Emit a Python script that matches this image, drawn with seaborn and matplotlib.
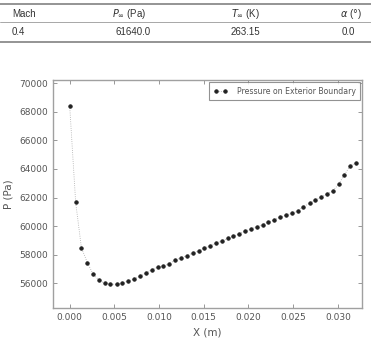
import numpy as np
import pandas as pd
import seaborn as sns
import matplotlib.pyplot as plt

# Freestream conditions (table above the plot)
table_header = ['Mach', r'$P_\infty$ (Pa)', r'$T_\infty$ (K)', r'$\alpha$ ($\degree$)']
table_values = ['0.4', '61640.0', '263.15', '0.0']

# Pressure along the exterior boundary
x_m = [0.0, 0.00067, 0.00131, 0.00198, 0.00261, 0.00328, 0.00392, 0.00456, 0.00524, 0.00586,
       0.00654, 0.00717, 0.00785, 0.00852, 0.00916, 0.00983, 0.01046, 0.01110, 0.01177, 0.01244,
       0.01308, 0.01375, 0.01443, 0.01506, 0.01569, 0.01637, 0.01701, 0.01768, 0.01831, 0.01894,
       0.01962, 0.02026, 0.02093, 0.02158, 0.02223, 0.02290, 0.02354, 0.02421, 0.02485, 0.02553,
       0.02615, 0.02683, 0.02746, 0.02814, 0.02878, 0.02945, 0.03008, 0.03072, 0.03139, 0.03206]
p_pa = [68407, 61654, 58492, 57442, 56651, 56210, 56000, 55930, 55930, 56020,
        56160, 56300, 56490, 56720, 56950, 57120, 57210, 57350, 57610, 57790,
        57930, 58100, 58280, 58450, 58630, 58820, 58960, 59150, 59290, 59470,
        59640, 59800, 59960, 60110, 60280, 60450, 60620, 60780, 60900, 61060,
        61360, 61600, 61810, 62040, 62250, 62460, 62930, 63580, 64230, 64440]

df = pd.DataFrame({'x': x_m, 'p': p_pa})

sns.set_style('ticks')
plt.rcParams['font.family'] = ['DejaVu Sans']
grey = '#555555'

fig = plt.figure(figsize=(3.71, 3.44), dpi=100)

# table drawn as figure text
tfont = ['Liberation Sans', 'DejaVu Sans']
fig.add_artist(plt.Line2D([0.0, 1.0], [1 - 3.5/344, 1 - 3.5/344], color='#777777', lw=1.1))
fig.add_artist(plt.Line2D([0.0, 1.0], [1 - 22/344, 1 - 22/344], color='#999999', lw=0.6))
fig.add_artist(plt.Line2D([0.0, 1.0], [1 - 42/344, 1 - 42/344], color='#777777', lw=1.1))
hx = [12, 112, 231, 362]
vx = [12, 116, 231, 355]
ha = ['left', 'left', 'left', 'right']
for i in range(4):
    fig.text(hx[i]/371, 1 - 14/344, table_header[i], ha=ha[i], va='center',
             fontsize=7, color='#333333', family=tfont)
    fig.text(vx[i]/371, 1 - 32/344, table_values[i], ha=ha[i], va='center',
             fontsize=7, color='#333333', family=tfont)

ax = fig.add_axes([52.7/371, 1 - 308.3/344, (362 - 52.7)/371, (308.3 - 80.3)/344])
sns.lineplot(data=df, x='x', y='p', ax=ax, linestyle=':', linewidth=0.6, color='#aaaaaa',
             marker='o', markersize=2.4, markerfacecolor='#222222', markeredgecolor='#222222',
             label='Pressure on Exterior Boundary')

ax.set_xlim(-0.0019, 0.0327)
ax.set_ylim(54250, 70200)
ax.set_xticks([0.0, 0.005, 0.010, 0.015, 0.020, 0.025, 0.030])
ax.set_xticklabels(['0.000', '0.005', '0.010', '0.015', '0.020', '0.025', '0.030'])
ax.set_yticks(range(56000, 70001, 2000))
ax.set_xlabel('X (m)', fontsize=7.5, color=grey)
ax.set_ylabel('P (Pa)', fontsize=7.5, color=grey)
ax.tick_params(direction='in', top=True, right=True, length=3, width=0.6,
               labelsize=6.5, colors='#888888', labelcolor=grey)
for s in ax.spines.values():
    s.set_color('#a0a0a0')
    s.set_linewidth(1.0)

leg = ax.legend(loc='upper right', numpoints=2, fontsize=5.6, fancybox=False,
                borderaxespad=0.25, handlelength=1.8, handletextpad=1.2,
                borderpad=0.55, labelcolor=grey)
leg.get_frame().set_edgecolor('#777777')
leg.get_frame().set_linewidth(0.8)

plt.savefig('out.png', dpi=100)
